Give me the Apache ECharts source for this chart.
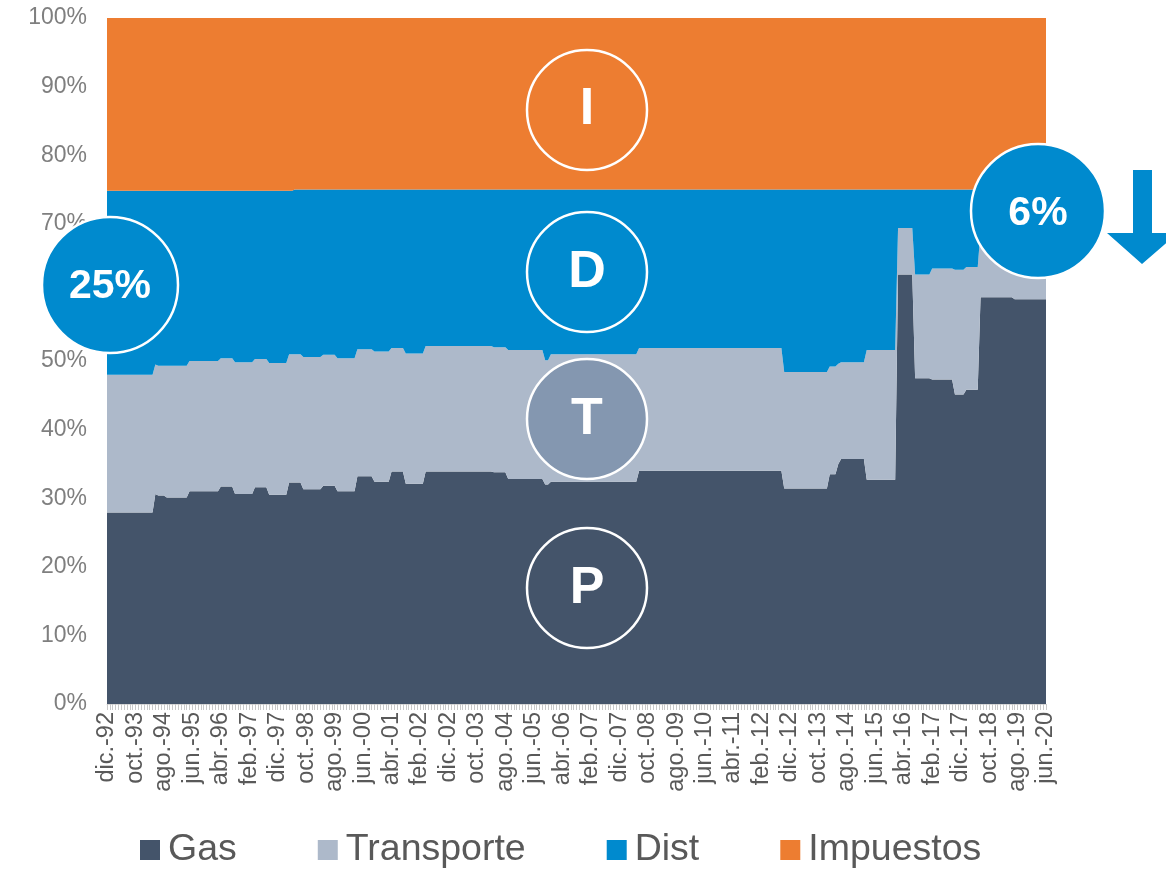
<!DOCTYPE html>
<html>
<head>
<meta charset="utf-8">
<script src="https://cdn.jsdelivr.net/npm/echarts@6/dist/echarts.min.js"></script>
<style>
html,body{margin:0;padding:0;background:#fff;}
#chart{width:1166px;height:870px;}
</style>
</head>
<body>
<div id="chart"></div>
<script>
// Monthly categories: dic.-92 .. jun.-20 (331 months)
const monthNames = ['ene.','feb.','mar.','abr.','may.','jun.','jul.','ago.','sep.','oct.','nov.','dic.'];
const firstMonth = 11, firstYear = 1992, monthCount = 331;
const categories = [];
for (let i = 0; i < monthCount; i++) {
  const m = (firstMonth + i) % 12;
  const y = firstYear + Math.floor((firstMonth + i) / 12);
  categories.push(monthNames[m] + '-' + String(y % 100).padStart(2, '0'));
}

// Share of final price (%), step data: [month index from which the value holds, value]
const gasSteps = [[0,27.9],[17,30.6],[18,30.4],[21,30.1],[29,31.0],[40,31.7],[45,30.6],[52,31.6],[57,30.5],[64,32.3],[69,31.3],[76,31.8],[81,31.0],[88,33.2],[94,32.4],[100,33.9],[105,32.1],[112,33.9],[136,33.8],[141,32.8],[154,32.0],[156,32.4],[187,34.0],[238,31.4],[254,33.5],[257,35.0],[258,35.7],[267,32.7],[278,62.6],[284,47.5],[290,47.3],[298,45.1],[302,45.8],[307,59.3],[319,59.0]];
const transporteSteps = [[0,20.1],[17,18.9],[21,19.2],[29,19.0],[40,18.7],[45,19.2],[52,18.7],[57,19.2],[64,18.7],[69,19.3],[76,19.1],[81,19.4],[88,18.5],[94,19.0],[100,18.0],[105,19.0],[112,18.3],[136,18.2],[141,18.8],[154,18.1],[156,18.6],[187,17.9],[238,17.0],[254,15.7],[257,14.6],[258,14.1],[267,18.9],[278,6.8],[284,15.1],[290,16.2],[298,18.2],[302,17.9],[307,9.7],[319,10.0]];
const distSteps = [[0,26.8],[17,25.3],[18,25.5],[29,24.8],[40,24.4],[45,25.0],[52,24.5],[57,25.1],[64,23.8],[66,24.0],[69,24.4],[76,24.1],[81,24.6],[88,23.3],[94,23.6],[100,23.1],[105,23.9],[112,22.8],[136,23.0],[141,23.4],[154,24.9],[156,24.0],[187,23.1],[238,26.6],[254,25.8],[257,25.4],[258,25.2],[267,23.4],[278,5.6],[284,12.4],[290,11.5],[298,11.7],[302,11.3],[307,6.0]];
const impuestosSteps = [[0,25.2],[66,25.0]];

const seriesNames = ['Gas','Transporte','Dist','Impuestos'];
const seriesColors = ['#44546A','#ADB9CA','#008ACE','#ED7D31'];
const yTicks = [0,10,20,30,40,50,60,70,80,90,100];

function expandSteps(steps) {
  const out = [];
  let k = 0;
  for (let i = 0; i < monthCount; i++) {
    while (k + 1 < steps.length && steps[k + 1][0] <= i) k++;
    out.push(steps[k][1]);
  }
  return out;
}
const dataSets = [gasSteps, transporteSteps, distSteps, impuestosSteps].map(expandSteps);

const chart = echarts.init(document.getElementById('chart'), null, {renderer: 'canvas'});
const FONT = 'Liberation Sans, Arial, Helvetica, sans-serif';

const series = seriesNames.map((name, idx) => ({
  name: name,
  type: 'line',
  stack: 'total',
  data: dataSets[idx],
  showSymbol: false,
  symbol: 'none',
  lineStyle: {width: 0},
  itemStyle: {color: seriesColors[idx]},
  areaStyle: {color: seriesColors[idx], opacity: 1},
  emphasis: {disabled: true},
  z: 2
}));

function circle(cx, cy, r, fill) {
  return {type: 'circle', shape: {cx: cx, cy: cy, r: r}, style: {fill: fill, stroke: '#ffffff', lineWidth: 2.5}, z: 100};
}
function label(x, y, text, size) {
  return {type: 'text', x: x, y: y, style: {text: text, fill: '#ffffff', fontSize: size, fontWeight: 'bold', fontFamily: FONT, align: 'center', verticalAlign: 'middle'}, z: 101};
}

chart.setOption({
  animation: false,
  grid: {left: 107, right: 120, top: 18, bottom: 166, containLabel: false},
  xAxis: {
    type: 'category',
    data: categories,
    boundaryGap: false,
    axisLine: {show: true, lineStyle: {color: '#d9d9d9', width: 1}},
    axisTick: {show: true, interval: 0, length: 6, lineStyle: {color: '#c9c9c9'}},
    axisLabel: {interval: 9, rotate: 90, color: '#595959', fontSize: 23.5, fontFamily: FONT, margin: 8}
  },
  yAxis: {
    type: 'value',
    min: yTicks[0],
    max: yTicks[yTicks.length - 1],
    interval: 10,
    axisLabel: {formatter: '{value}%', color: '#7f7f7f', fontSize: 23, fontFamily: FONT, margin: 20},
    splitLine: {show: false},
    axisLine: {show: false},
    axisTick: {show: false}
  },
  legend: {
    data: seriesNames,
    left: 135,
    top: 826,
    icon: 'rect',
    itemWidth: 20,
    itemHeight: 20,
    itemGap: 81,
    textStyle: {fontSize: 37.5, color: '#595959', fontFamily: FONT, padding: [0, 0, 0, 3]}
  },
  series: series,
  graphic: [
    circle(587, 110, 60, 'transparent'), label(587, 110, 'I', 52),
    circle(587, 272, 60, 'transparent'), label(587, 273, 'D', 52),
    circle(587, 419, 60, '#8497B0'), label(587, 420, 'T', 52),
    circle(587, 588, 60, 'transparent'), label(587, 589, 'P', 52),
    circle(110, 285, 68, '#008ACE'), label(110, 287, '25%', 41),
    circle(1038, 211, 67, '#008ACE'), label(1038, 214, '6%', 41),
    {type: 'polygon', shape: {points: [[1133,170],[1152,170],[1152,233],[1178,233],[1142,264],[1107,233],[1133,233]]}, style: {fill: '#008ACE'}, z: 100}
  ]
});
</script>
</body>
</html>
